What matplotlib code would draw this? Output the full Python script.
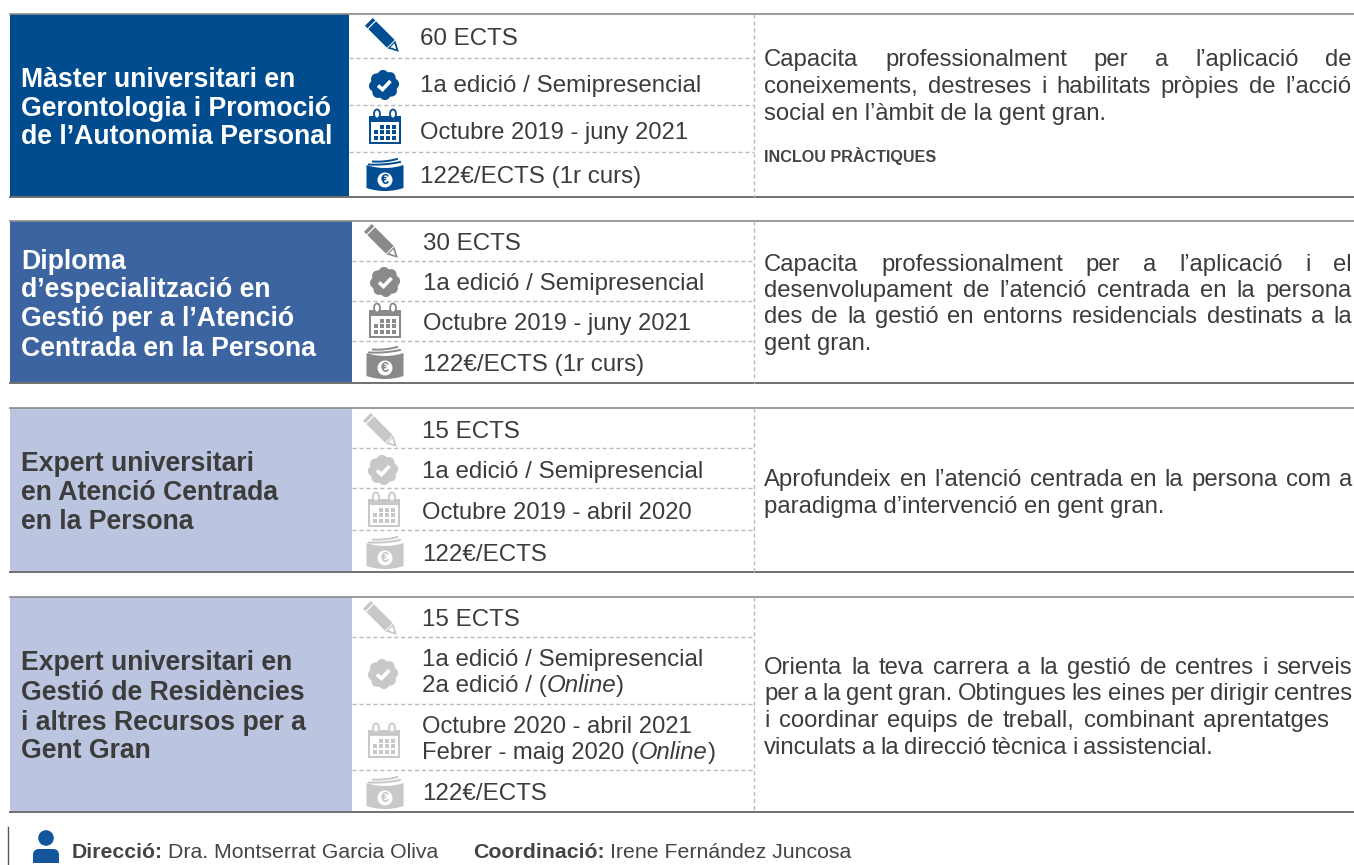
import numpy as np
import matplotlib
matplotlib.use("Agg")
import matplotlib.pyplot as plt
from matplotlib.patches import Rectangle, Polygon, Circle, Ellipse, FancyBboxPatch

FONT = "Liberation Sans"

# Text content
titles = [
    ["Màster universitari en", "Gerontologia i Promoció", "de l’Autonomia Personal"],
    ["Diploma", "d’especialització en", "Gestió per a l’Atenció", "Centrada en la Persona"],
    ["Expert universitari", "en Atenció Centrada", "en la Persona"],
    ["Expert universitari en", "Gestió de Residències", "i altres Recursos per a", "Gent Gran"],
]
credits = ["60 ECTS", "30 ECTS", "15 ECTS", "15 ECTS"]
editions = [
    ["1a edició / Semipresencial"],
    ["1a edició / Semipresencial"],
    ["1a edició / Semipresencial"],
    ["1a edició / Semipresencial", "2a edició / (*Online*)"],
]
dates = [
    ["Octubre 2019 - juny 2021"],
    ["Octubre 2019 - juny 2021"],
    ["Octubre 2019 - abril 2020"],
    ["Octubre 2020 - abril 2021", "Febrer - maig 2020 (*Online*)"],
]
prices = ["122€/ECTS (1r curs)", "122€/ECTS (1r curs)", "122€/ECTS", "122€/ECTS"]
descriptions = [
    ["Capacita professionalment per a l’aplicació de",
     "coneixements, destreses i habilitats pròpies de l’acció",
     "social en l’àmbit de la gent gran."],
    ["Capacita professionalment per a l’aplicació i el",
     "desenvolupament de l’atenció centrada en la persona",
     "des de la gestió en entorns residencials destinats a la",
     "gent gran."],
    ["Aprofundeix en l’atenció centrada en la persona com a",
     "paradigma d’intervenció en gent gran."],
    ["Orienta la teva carrera a la gestió de centres i serveis",
     "per a la gent gran. Obtingues les eines per dirigir centres",
     "i coordinar equips de treball, combinant aprentatges",
     "vinculats a la direcció tècnica i assistencial."],
]
note = "INCLOU PRÀCTIQUES"
footer = [("Direcció:", "Dra. Montserrat Garcia Oliva"), ("Coordinació:", "Irene Fernández Juncosa")]

# Layout, all in reference pixels
tops = [14, 221, 408, 597]
bottoms = [197, 383, 572, 812]
left_ends = [349, 352, 352, 352]
row_lines = [[58, 105, 152], [261, 301, 341], [448, 488, 530], [637, 704, 770]]
text_x = [420, 423, 422, 422]
# baselines
row_y = [[45, 92, 139, 183], [250, 290, 330, 371], [438, 478, 519, 561], [626, 679, 746, 800]]
title_y = [[87, 116, 144], [269, 297, 326, 356], [471, 500, 529], [670, 700, 730, 758]]
desc_y = [[66, 93, 120], [271, 297, 323, 350], [486, 513], [674, 700, 727, 754]]
desc_ends = [[1352, 1352, None], [1352, 1352, 1352, None], [1352, None], [1352, 1352, 1329, 1213]]
icon_y = [[36, 85, 128, 175], [242, 282, 322, 363], [431, 470, 511, 553], [619, 674, 742, 793]]
icon_x = [[383, 384, 385, 385], [382, 385, 385, 385], [381, 383, 384, 385], [381, 383, 384, 385]]
fills = ["#004c8f", "#3b64a0", "#bcc5df", "#bcc5df"]
title_colors = ["white", "white", "#3c3c3c", "#3c3c3c"]
icon_colors = ["#034e92", "#8a8a8a", "#c8c8c8", "#c8c8c8"]
TEXT = "#3c3c3c"
BODY_SIZE = 17.4
DATE_SIZE = 17.1
DESC_SIZE = 17.2
TITLE_SIZE = 19.15
FOOT_SIZE = 15.3

fig = plt.figure(figsize=(13.54, 8.65), dpi=100)
ax = fig.add_axes([0, 0, 1, 1])
ax.set_xlim(0, 1354)
ax.set_ylim(865, 0)
ax.axis("off")
renderer = fig.canvas.get_renderer()


def put(x, y, s, **kw):
    kw.setdefault("family", FONT)
    kw.setdefault("color", TEXT)
    kw.setdefault("va", "baseline")
    return ax.text(x, y, s, **kw)


def width(t):
    return t.get_window_extent(renderer).width


def put_runs(x, y, s, size):
    # *...* marks an italic piece
    for i, piece in enumerate(s.split("*")):
        if not piece:
            continue
        t = put(x, y, piece.replace(" ", "\u00a0"), fontsize=size, style="italic" if i % 2 else "normal")
        x += width(t)


def put_justified(x0, x1, y, s, size):
    words = s.split(" ")
    items = [put(x0, y, w, fontsize=size) for w in words]
    gap = (x1 - x0 - sum(width(t) for t in items)) / (len(items) - 1)
    x = x0
    for t in items:
        t.set_x(x)
        x += width(t) + gap


def pencil(cx, cy, c):
    def tr(pts):
        a = np.radians(45)
        p = np.array(pts, float)
        return np.c_[cx + p[:, 0] * np.cos(a) - p[:, 1] * np.sin(a),
                     cy + p[:, 0] * np.sin(a) + p[:, 1] * np.cos(a)]
    ax.add_patch(Polygon(tr([(-20, -5.5), (-16.5, -5.5), (-16.5, 5.5), (-20, 5.5)]), fc=c, ec="none"))
    ax.add_patch(Polygon(tr([(-15.3, -5.5), (11, -5.5), (11, 5.5), (-15.3, 5.5)]), fc=c, ec="none"))
    ax.add_patch(Polygon(tr([(12, -5.5), (22.5, 0), (12, 5.5)]), fc=c, ec="none"))
    ax.add_patch(Polygon(tr([(13.2, -2.8), (18.8, 0), (13.2, 2.8)]), fc="white", ec="none"))


def badge(cx, cy, c):
    th = np.linspace(0, 2 * np.pi, 240)
    r = 13.2 + 1.9 * np.abs(np.cos(4 * th + np.pi / 8))
    ax.add_patch(Polygon(np.c_[cx + r * np.cos(th), cy + r * np.sin(th)], fc=c, ec="none"))
    ax.plot([cx - 6, cx - 1.5, cx + 6.5], [cy + 0.5, cy + 4.5, cy - 4], color="white",
            lw=2.6, solid_capstyle="butt", solid_joinstyle="miter")


def calendar(cx, cy, c):
    ax.add_patch(Rectangle((cx - 16, cy - 12), 32, 28, fc=c, ec="none"))
    ax.add_patch(Rectangle((cx - 14, cy - 6), 28, 19.5, fc="white", ec="none"))
    for dx in (-8, 8):
        ax.add_patch(Ellipse((cx + dx, cy - 14), 6, 9, fc="white", ec=c, lw=1.3))
    for i, gy in enumerate((-1.3, 4.3, 10.3)):
        for gx in (-9, -3.3, 3, 9):
            if i == 0 and gx == -9:
                continue
            ax.add_patch(Rectangle((cx + gx - 2, cy + gy - 2), 4, 4, fc=c, ec="none"))


def money(cx, cy, c):
    xs = np.linspace(-18.5, 18.5, 30)
    top = -10 + 3 * (1 - (xs / 18.5) ** 2)
    bot = 13 + 3 * (1 - (xs / 18.5) ** 2)
    ax.add_patch(Polygon(np.r_[np.c_[cx + xs, cy + top], np.c_[cx + xs[::-1], cy + bot[::-1]]],
                         fc=c, ec="none"))
    for off, x0, x1 in ((-10.5, -16, 15), (-13.5, -12, 12)):
        xx = np.linspace(x0, x1, 20)
        u = (xx - x0) / (x1 - x0)
        ax.plot(cx + xx, cy + off - 4 * u ** 2 + 1.5 * u, color=c, lw=1.4)
    ax.add_patch(Circle((cx, cy + 5), 7.5, fc="white", ec="none"))
    put(cx, cy + 5, "€", fontsize=10.5, color=c, ha="center", va="center", fontweight="bold")


for b in range(4):
    t, bt, le = tops[b], bottoms[b], left_ends[b]
    ax.add_patch(Rectangle((10, t), le - 10, bt - t, fc=fills[b], ec="none", zorder=1))
    ax.plot([10, 1354], [t, t], color="#8a8a8a", lw=1.2, zorder=2)
    ax.plot([10, 1354], [bt, bt], color="#707070", lw=1.4, zorder=2)
    for y in row_lines[b]:
        ax.plot([le, 754], [y, y], color="#bcbcbc", lw=1, ls=(0, (3, 2)), zorder=2)
    ax.plot([754, 754], [t, bt], color="#bcbcbc", lw=1, ls=(0, (3, 2)), zorder=2)

    for y, line in zip(title_y[b], titles[b]):
        put(21, y, line, fontsize=TITLE_SIZE, fontweight="bold", color=title_colors[b])

    rows = [[credits[b]], editions[b], dates[b], [prices[b]]]
    for k, (y, lines) in enumerate(zip(row_y[b], rows)):
        size = DATE_SIZE if k == 2 else BODY_SIZE
        if len(lines) == 1:
            put_runs(text_x[b], y, lines[0], size)
        else:
            put_runs(text_x[b], y - 13, lines[0], size)
            put_runs(text_x[b], y + 13, lines[1], size)

    c = icon_colors[b]
    pencil(icon_x[b][0], icon_y[b][0], c)
    badge(icon_x[b][1], icon_y[b][1], c)
    calendar(icon_x[b][2], icon_y[b][2], c)
    money(icon_x[b][3], icon_y[b][3], c)

    for y, line, end in zip(desc_y[b], descriptions[b], desc_ends[b]):
        if end:
            put_justified(764, end, y, line, DESC_SIZE)
        else:
            put(764, y, line, fontsize=DESC_SIZE)

put(764, 162, note, fontsize=11.6, fontweight="bold", color="#444444")

# Footer
ax.plot([7.5, 7.5], [827, 865], color="#555555", lw=1)
ax.add_patch(Circle((46, 838), 7.8, fc="#14569b", ec="none"))
ax.add_patch(FancyBboxPatch((33, 849), 26, 14, boxstyle="round,pad=0,rounding_size=6", fc="#14569b", ec="none"))
ax.add_patch(Rectangle((33, 856), 26, 7, fc="#14569b", ec="none"))
put(72, 858, footer[0][0], fontsize=FOOT_SIZE, fontweight="bold", color="#444444")
put(168, 858, footer[0][1], fontsize=FOOT_SIZE, color="#444444")
put(473, 858, footer[1][0], fontsize=FOOT_SIZE, fontweight="bold", color="#444444")
put(610, 858, footer[1][1], fontsize=FOOT_SIZE, color="#444444")

fig.savefig("out.png", dpi=100)
